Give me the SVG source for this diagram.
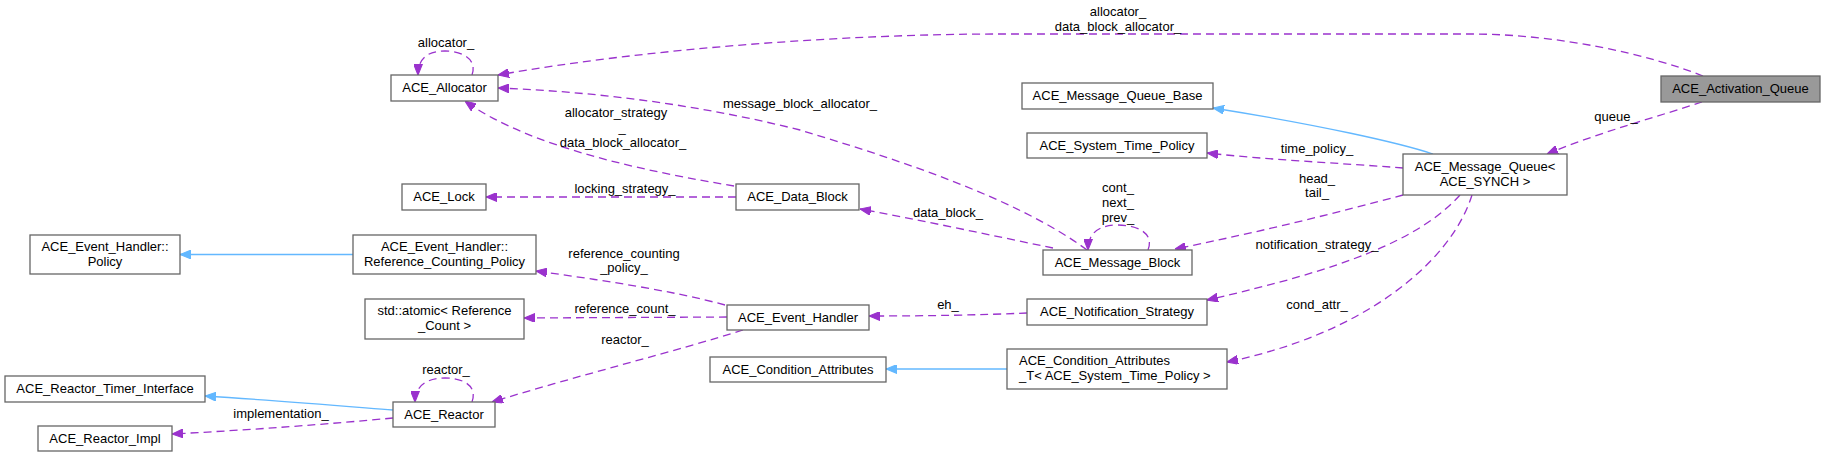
<svg xmlns="http://www.w3.org/2000/svg" width="1825" height="457" viewBox="0 0 1825 457">
<defs>
<marker id="ap" viewBox="0 0 10 8" refX="10" refY="4" markerWidth="11" markerHeight="9" markerUnits="userSpaceOnUse" orient="auto"><path d="M0,0 L10,4 L0,8 Z" fill="#9a32cd" stroke="#9a32cd"/></marker>
<marker id="ab" viewBox="0 0 10 8" refX="10" refY="4" markerWidth="11" markerHeight="9" markerUnits="userSpaceOnUse" orient="auto"><path d="M0,0 L10,4 L0,8 Z" fill="#63b8ff" stroke="#63b8ff"/></marker>
</defs>
<style>
.n rect{fill:#ffffff;stroke:#666666;stroke-width:1.3}
.n text,.lb text{font-family:"Liberation Sans",Arial,sans-serif;font-size:13px;fill:#000000}
.n text{text-anchor:middle}
.lb text{text-anchor:middle}
.u{fill:none;stroke:#9a32cd;stroke-width:1.3;stroke-dasharray:8,5;marker-end:url(#ap)}
.i{fill:none;stroke:#63b8ff;stroke-width:1.3;marker-end:url(#ab)}
</style>
<rect width="1825" height="457" fill="#ffffff"/>
<g id="edges">
<path class="u" d="M1703,76 C1650,55 1560,34 1470,34 L1000,34 C850,34 650,48 498,75"/>
<path class="u" d="M1702,102 C1660,116 1600,132 1547,154"/>
<path class="i" d="M1433,154 C1400,143 1320,125 1213,108"/>
<path class="u" d="M1403,168 C1340,163 1270,160 1207,153"/>
<path class="u" d="M1403,195 C1340,212 1260,232 1175,249"/>
<path class="u" d="M1460,195 C1420,240 1340,270 1207,300"/>
<path class="u" d="M1472,195 C1450,265 1360,335 1227,362"/>
<path class="i" d="M1007,369 L886,369"/>
<path class="u" d="M1027,313 C980,315 930,316 869,316"/>
<path class="u" d="M725,305 C670,290 600,280 536,271"/>
<path class="u" d="M727,317 L524,318"/>
<path class="u" d="M743,330 C680,350 580,375 492,402"/>
<path class="u" d="M472,402 C478,385 462,378 445,378 C428,378 415,385 415,402"/>
<path class="i" d="M393,410 C330,405 270,400 205,396"/>
<path class="u" d="M393,418 C330,424 250,430 172,434"/>
<path class="i" d="M353,254.5 L180,254.5"/>
<path class="u" d="M736,197 L486,197"/>
<path class="u" d="M734,186 C650,172 530,148 465,101"/>
<path class="u" d="M1087,250 C1020,200 900,160 800,130 C700,105 600,92 498,88"/>
<path class="u" d="M1148,250 C1155,232 1135,225 1118,225 C1100,225 1088,232 1088,250"/>
<path class="u" d="M1053,248 C990,235 920,220 860,209"/>
<path class="u" d="M472,75 C478,58 460,51 445,51 C428,51 418,58 418,75"/>
</g>
<g id="labels" class="lb">
<text x="1118" y="16">allocator_</text>
<text x="1118" y="31">data_block_allocator_</text>
<text x="1616" y="121">queue_</text>
<text x="1317" y="153">time_policy_</text>
<text x="1317" y="183">head_</text>
<text x="1317" y="197">tail_</text>
<text x="1317" y="249">notification_strategy_</text>
<text x="1317" y="309">cond_attr_</text>
<text x="948" y="309">eh_</text>
<text x="624" y="258">reference_counting</text>
<text x="624" y="272">_policy_</text>
<text x="625" y="313">reference_count_</text>
<text x="625" y="344">reactor_</text>
<text x="446" y="374">reactor_</text>
<text x="281" y="418">implementation_</text>
<text x="625" y="193">locking_strategy_</text>
<text x="616" y="117">allocator_strategy</text>
<text x="622" y="132">_</text>
<text x="623" y="147">data_block_allocator_</text>
<text x="800" y="108">message_block_allocator_</text>
<text x="1118" y="192">cont_</text>
<text x="1118" y="207">next_</text>
<text x="1118" y="222">prev_</text>
<text x="948" y="217">data_block_</text>
<text x="446" y="47">allocator_</text>
</g>
<g id="n_alloc" class="n"><rect x="391" y="75" width="107" height="26"/><text x="444.5" y="92">ACE_Allocator</text></g>
<g id="n_lock" class="n"><rect x="402" y="184" width="84" height="26"/><text x="444" y="201">ACE_Lock</text></g>
<g id="n_datablock" class="n"><rect x="736" y="184" width="123" height="26"/><text x="797.5" y="201">ACE_Data_Block</text></g>
<g id="n_policy" class="n"><rect x="30" y="235" width="150" height="39"/><text x="105" y="251">ACE_Event_Handler::</text><text x="105" y="265.5">Policy</text></g>
<g id="n_refpolicy" class="n"><rect x="353" y="235" width="183" height="39"/><text x="444.5" y="251">ACE_Event_Handler::</text><text x="444.5" y="265.5">Reference_Counting_Policy</text></g>
<g id="n_atomic" class="n"><rect x="365" y="299" width="159" height="40"/><text x="444.5" y="315">std::atomic&lt; Reference</text><text x="444.5" y="329.5">_Count &gt;</text></g>
<g id="n_timer" class="n"><rect x="5" y="376" width="200" height="26"/><text x="105" y="393">ACE_Reactor_Timer_Interface</text></g>
<g id="n_impl" class="n"><rect x="38" y="426" width="134" height="25"/><text x="105" y="442.5">ACE_Reactor_Impl</text></g>
<g id="n_reactor" class="n"><rect x="393" y="402" width="102" height="25"/><text x="444" y="419">ACE_Reactor</text></g>
<g id="n_eh" class="n"><rect x="727" y="305" width="142" height="25"/><text x="798" y="322">ACE_Event_Handler</text></g>
<g id="n_condattr" class="n"><rect x="710" y="357" width="176" height="25"/><text x="798" y="374">ACE_Condition_Attributes</text></g>
<g id="n_mqbase" class="n"><rect x="1022" y="83" width="191" height="26"/><text x="1117.5" y="100">ACE_Message_Queue_Base</text></g>
<g id="n_stp" class="n"><rect x="1027" y="133" width="180" height="25"/><text x="1117" y="150">ACE_System_Time_Policy</text></g>
<g id="n_mb" class="n"><rect x="1043" y="250" width="149" height="25"/><text x="1117.5" y="267">ACE_Message_Block</text></g>
<g id="n_ns" class="n"><rect x="1027" y="299" width="180" height="26"/><text x="1117" y="316">ACE_Notification_Strategy</text></g>
<g id="n_condT" class="n"><rect x="1007" y="349" width="220" height="40"/><text x="1019" y="365" style="text-anchor:start">ACE_Condition_Attributes</text><text x="1019" y="380" style="text-anchor:start">_T&lt; ACE_System_Time_Policy &gt;</text></g>
<g id="n_mq" class="n"><rect x="1403" y="154" width="164" height="41"/><text x="1485" y="171">ACE_Message_Queue&lt;</text><text x="1485" y="186"> ACE_SYNCH &gt;</text></g>
<g id="n_aq" class="n"><rect x="1661" y="76" width="159" height="26" style="fill:#999999"/><text x="1740.5" y="93">ACE_Activation_Queue</text></g>
</svg>
